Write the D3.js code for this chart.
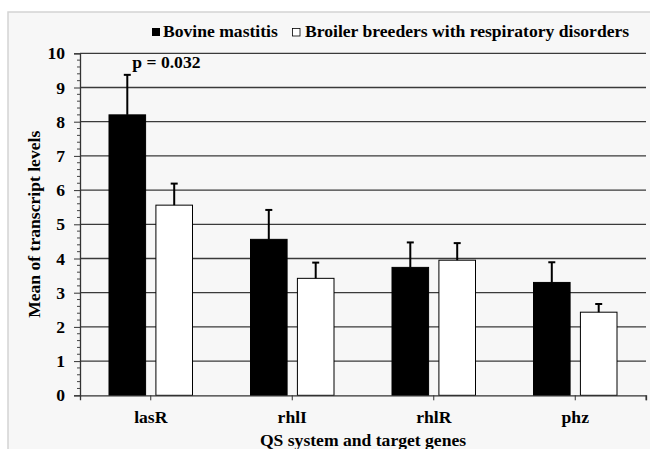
<!DOCTYPE html>
<html>
<head>
<meta charset="utf-8">
<script src="https://cdn.jsdelivr.net/npm/d3@7"></script>
<style>
  html, body { margin: 0; padding: 0; background: #ffffff; }
  svg { display: block; }
  text { font-family: "Liberation Serif", "Times New Roman", serif; font-weight: bold; fill: #000; }
</style>
</head>
<body>
<svg id="chart" width="650" height="449"></svg>
<script>
// ---- data ----
const categories = ["lasR", "rhlI", "rhlR", "phz"];
const seriesNames = ["Bovine mastitis", "Broiler breeders with respiratory disorders"];
const bovineValues = [8.2, 4.56, 3.74, 3.30];
const bovineErrors = [1.17, 0.86, 0.73, 0.59];
const broilerValues = [5.56, 3.42, 3.95, 2.43];
const broilerErrors = [0.63, 0.46, 0.50, 0.24];
const yTicks = [0, 1, 2, 3, 4, 5, 6, 7, 8, 9, 10];
const yTitle = "Mean of transcript levels";
const xTitle = "QS system and target genes";
const annotation = "p = 0.032";

// ---- layout ----
const FS = 17.6;
const svg = d3.select("#chart");
const W = 650, H = 449;
const plot = { left: 80, right: 646, top: 53.3, bottom: 395.3 };

// frame + background
svg.append("rect").attr("x", 0).attr("y", 0).attr("width", W).attr("height", H).attr("fill", "#ffffff");
svg.append("rect").attr("x", 8).attr("y", 12).attr("width", W + 10).attr("height", H + 10)
  .attr("fill", "#f7f7f7").attr("stroke", "#d4d4d4").attr("stroke-width", 1.5);

const x = d3.scaleBand().domain(categories).range([plot.left, plot.right]).paddingInner(0).paddingOuter(0);
const step = x.bandwidth();
const xs = d3.scaleBand().domain([0, 1]).range([29, step - 29]).paddingInner(0.22).paddingOuter(0);
const y = d3.scaleLinear().domain([0, 10]).range([plot.bottom, plot.top]);

// gridlines
svg.append("g").selectAll("line").data(yTicks.filter(d => d > 0)).join("line")
  .attr("x1", plot.left).attr("x2", plot.right)
  .attr("y1", d => y(d)).attr("y2", d => y(d))
  .attr("stroke", "#3a3a3a").attr("stroke-width", 1.3);

// bars
const series = [
  { name: seriesNames[0], values: bovineValues, errors: bovineErrors, fill: "#000000" },
  { name: seriesNames[1], values: broilerValues, errors: broilerErrors, fill: "#ffffff" }
];
series.forEach((s, si) => {
  const g = svg.append("g");
  g.selectAll("rect").data(categories).join("rect")
    .attr("x", c => x(c) + xs(si))
    .attr("y", (c, i) => y(s.values[i]))
    .attr("width", xs.bandwidth())
    .attr("height", (c, i) => y(0) - y(s.values[i]))
    .attr("fill", s.fill).attr("stroke", "#000").attr("stroke-width", 1);
  // error bars (upper only)
  g.selectAll("line.err").data(categories).join("line").attr("class", "err")
    .attr("x1", c => x(c) + xs(si) + xs.bandwidth() / 2)
    .attr("x2", c => x(c) + xs(si) + xs.bandwidth() / 2)
    .attr("y1", (c, i) => y(s.values[i]))
    .attr("y2", (c, i) => y(s.values[i] + s.errors[i]))
    .attr("stroke", "#000").attr("stroke-width", 2);
  g.selectAll("line.cap").data(categories).join("line").attr("class", "cap")
    .attr("x1", c => x(c) + xs(si) + xs.bandwidth() / 2 - 3.5)
    .attr("x2", c => x(c) + xs(si) + xs.bandwidth() / 2 + 3.5)
    .attr("y1", (c, i) => y(s.values[i] + s.errors[i]))
    .attr("y2", (c, i) => y(s.values[i] + s.errors[i]))
    .attr("stroke", "#000").attr("stroke-width", 2);
});

// y axis
const yAxisG = svg.append("g").attr("transform", `translate(${plot.left},0)`)
  .call(d3.axisLeft(y).tickValues(yTicks).tickFormat(d3.format("d")).tickSize(6).tickPadding(9));
yAxisG.attr("font-family", null).attr("font-size", null);
yAxisG.select(".domain").attr("stroke", "#333").attr("stroke-width", 1.3);
yAxisG.selectAll(".tick line").attr("stroke", "#333").attr("stroke-width", 1);
yAxisG.selectAll(".tick text").attr("font-size", FS).attr("fill", "#000");
// minor ticks
const minor = d3.range(0, 50).map(i => i * 0.2).filter(v => Math.abs(v - Math.round(v)) > 1e-6);
svg.append("g").selectAll("line").data(minor).join("line")
  .attr("x1", plot.left - 3).attr("x2", plot.left)
  .attr("y1", d => y(d)).attr("y2", d => y(d))
  .attr("stroke", "#444").attr("stroke-width", 1);

// x axis
const xAxisG = svg.append("g").attr("transform", `translate(0,${plot.bottom})`)
  .call(d3.axisBottom(x).tickSize(5).tickPadding(10));
xAxisG.attr("font-family", null).attr("font-size", null);
xAxisG.select(".domain").attr("stroke", "#333").attr("stroke-width", 1.3);
xAxisG.selectAll(".tick line").attr("stroke", "#333");
xAxisG.selectAll(".tick text").attr("font-size", FS).attr("fill", "#000");
xAxisG.append("line").attr("x1", plot.right).attr("x2", plot.right).attr("y1", 0).attr("y2", 5).attr("stroke", "#333");

// axis titles
svg.append("text").attr("x", (plot.left + plot.right) / 2).attr("y", 446)
  .attr("text-anchor", "middle").attr("font-size", FS).text(xTitle);
svg.append("text").attr("transform", `translate(40,${(plot.top + plot.bottom) / 2}) rotate(-90)`)
  .attr("text-anchor", "middle").attr("font-size", FS).text(yTitle);

// annotation
const ax = x(categories[0]) + xs(0) + xs.bandwidth() / 2;
svg.append("text").attr("x", ax + 5).attr("y", y(bovineValues[0] + bovineErrors[0]) - 7)
  .attr("font-size", FS).text(annotation);

// legend
const legend = svg.append("g");
legend.append("rect").attr("x", 152).attr("y", 28).attr("width", 8).attr("height", 8).attr("fill", "#000");
legend.append("text").attr("x", 163).attr("y", 37).attr("font-size", FS).text(seriesNames[0]);
legend.append("rect").attr("x", 292.5).attr("y", 28.5).attr("width", 7.5).attr("height", 7.5).attr("fill", "#fff").attr("stroke", "#000").attr("stroke-width", 0.8);
legend.append("text").attr("x", 305).attr("y", 37).attr("font-size", FS).text(seriesNames[1]);
</script>
</body>
</html>
